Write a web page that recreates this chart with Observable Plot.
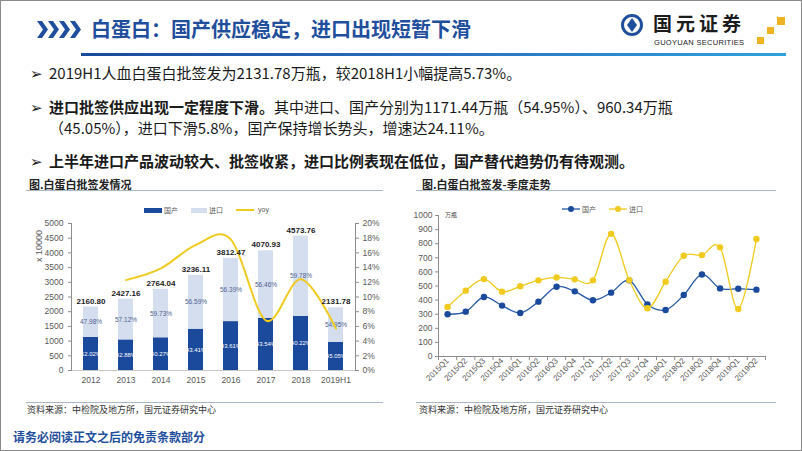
<!DOCTYPE html>
<html><head><meta charset="utf-8">
<script src="https://cdn.jsdelivr.net/npm/d3@7"></script>
<script src="https://cdn.jsdelivr.net/npm/@observablehq/plot@0.6"></script>
<style>
html,body{margin:0;padding:0;background:#fff}
#page{position:relative;width:802px;height:451px;box-sizing:border-box;border:1px solid #8a8a8a;background:#fff;overflow:hidden;font-family:"Noto Sans CJK SC",sans-serif;color:#222}
.a{position:absolute;white-space:nowrap}
.bul{font-size:15px;line-height:20px;font-family:"Liberation Sans Narrow","Noto Sans CJK SC",sans-serif;color:#1a1a1a}
.bul b{font-family:"Noto Sans CJK SC",sans-serif;font-weight:700}
.arrow{font-family:"DejaVu Sans",sans-serif;font-size:15px}
.ctitle{font-size:11px;font-weight:700;color:#222;line-height:14px}
.sep{position:absolute;height:1px;background:#a9b6c9}
.src{font-size:9px;color:#333;line-height:12px}
.leg{font-size:7px;color:#595959;line-height:10px}
</style></head>
<body>
<div id="page">
  <!-- header -->
  <svg class="a" style="left:36px;top:20px" width="48" height="17">
    <g fill="#1F4E9C">
      <polygon points="0,0 5,0 11,8.5 5,17 0,17 6,8.5"/>
      <polygon points="11,0 16,0 22,8.5 16,17 11,17 17,8.5"/>
      <polygon points="22,0 27,0 33,8.5 27,17 22,17 28,8.5"/>
      <polygon points="33,0 38,0 44,8.5 38,17 33,17 39,8.5"/>
    </g>
  </svg>
  <div class="a" style="left:90px;top:15px;font-size:20px;line-height:26px;font-weight:700;color:#1F4E9C">白蛋白：国产供应稳定，进口出现短暂下滑</div>
  <div class="a" style="left:80px;top:52px;width:705px;height:3px;background:linear-gradient(90deg,#1a4a9a,#2b6fc0 50%,#2ea3dc)"></div>
  <svg class="a" style="left:619px;top:12px" width="24" height="24">
    <circle cx="12" cy="12" r="9.5" fill="none" stroke="#1F4E9C" stroke-width="3"/>
    <polygon points="12,5 17,12 12,19 7,12" fill="#1F4E9C"/>
  </svg>
  <div class="a" style="left:652px;top:11px;font-size:19px;line-height:22px;font-weight:700;color:#1c1c1c;letter-spacing:4px">国元证券</div>
  <div class="a" style="left:653px;top:37px;font-size:7.5px;line-height:9px;font-family:'Liberation Sans',sans-serif;color:#222;letter-spacing:0.3px">GUOYUAN SECURITIES</div>
  <div class="a" style="left:776px;top:16px;width:8px;height:8px;background:#F0B323"></div>
  <div class="a" style="left:766px;top:26px;width:7px;height:7px;background:#F0B323"></div>
  <div class="a" style="left:756px;top:36px;width:7px;height:7px;background:#F0B323"></div>

  <!-- bullets -->
  <div class="a bul" style="left:29px;top:62px"><span class="arrow">➢</span></div>
  <div class="a bul" style="left:48px;top:62px">2019H1人血白蛋白批签发为2131.78万瓶，较2018H1小幅提高5.73%。</div>
  <div class="a bul" style="left:29px;top:96px"><span class="arrow">➢</span></div>
  <div class="a bul" style="left:48px;top:96px"><b>进口批签供应出现一定程度下滑。</b>其中进口、国产分别为1171.44万瓶（54.95%）、960.34万瓶</div>
  <div class="a bul" style="left:48px;top:117px">（45.05%），进口下滑5.8%，国产保持增长势头，增速达24.11%。</div>
  <div class="a bul" style="left:29px;top:150px"><span class="arrow">➢</span></div>
  <div class="a bul" style="left:48px;top:150px"><b>上半年进口产品波动较大、批签收紧，进口比例表现在低位，国产替代趋势仍有待观测。</b></div>

  <!-- left chart frame -->
  <div class="a ctitle" style="left:28px;top:176px">图.白蛋白批签发情况</div>
  <div class="sep" style="left:25px;top:189px;width:357px"></div>
  <div class="sep" style="left:25px;top:401px;width:357px"></div>
  <div class="a src" style="left:26px;top:403px">资料来源：中检院及地方所，国元证券研究中心</div>
  <div class="a" style="left:143px;top:207px;width:18px;height:5px;background:#1B4A9C"></div>
  <div class="a leg" style="left:163px;top:204px">国产</div>
  <div class="a" style="left:190px;top:207px;width:16px;height:5px;background:#D5DEEF"></div>
  <div class="a leg" style="left:208px;top:204px">进口</div>
  <div class="a" style="left:235px;top:208px;width:18px;height:2px;background:#F0CA1E"></div>
  <div class="a leg" style="left:257px;top:204px;font-family:'Liberation Sans',sans-serif">yoy</div>
  <div class="a" style="left:10px;top:240px;width:56px;text-align:center;font-size:9px;color:#595959;font-family:'Liberation Sans',sans-serif;transform:rotate(-90deg)">x 10000</div>
  <div id="left" class="a" style="left:20px;top:215px"></div>

  <!-- right chart frame -->
  <div class="a ctitle" style="left:421px;top:176px">图.白蛋白批签发-季度走势</div>
  <div class="sep" style="left:415px;top:189px;width:360px"></div>
  <div class="sep" style="left:415px;top:401px;width:360px"></div>
  <div class="a src" style="left:418px;top:403px">资料来源：中检院及地方所，国元证券研究中心</div>
  <svg class="a" style="left:561px;top:204px" width="18" height="8"><line x1="0" y1="4" x2="18" y2="4" stroke="#2457A6" stroke-width="1.3"/><circle cx="9" cy="4" r="3" fill="#1B4A9C"/></svg>
  <div class="a leg" style="left:581px;top:203px">国产</div>
  <svg class="a" style="left:608px;top:204px" width="18" height="8"><line x1="0" y1="4" x2="18" y2="4" stroke="#F0CA1E" stroke-width="1.3"/><circle cx="9" cy="4" r="3" fill="#F0CA1E"/></svg>
  <div class="a leg" style="left:628px;top:203px">进口</div>
  <div class="a" style="left:444px;top:210px;font-size:6px;color:#444;line-height:8px">万瓶</div>
  <div id="right" class="a" style="left:400px;top:205px"></div>

  <div class="a" style="left:12px;top:428px;font-size:12px;line-height:16px;font-weight:700;color:#1F4E9C">请务必阅读正文之后的免责条款部分</div>
</div>
<script>
// ---- left chart data ----
const years = ["2012","2013","2014","2015","2016","2017","2018","2019H1"];
const totals = [2160.80,2427.16,2764.04,3236.11,3812.47,4070.93,4573.76,2131.78];
const domestic = [1124,1041,1113,1405,1663,1772,1840,960];
const domesticPct = ["52.02%","42.88%","40.27%","43.41%","43.61%","43.54%","40.22%","45.05%"];
const importPct = ["47.98%","57.12%","59.73%","56.59%","56.39%","56.46%","59.78%","54.95%"];
const yoyPct = [null,12.3,13.9,17.1,17.8,6.8,12.4,5.7];
const leftTicks = [0,500,1000,1500,2000,2500,3000,3500,4000,4500,5000];

// ---- right chart data ----
const quarters = ["2015Q1","2015Q2","2015Q3","2015Q4","2016Q1","2016Q2","2016Q3","2016Q4","2017Q1","2017Q2","2017Q3","2017Q4","2018Q1","2018Q2","2018Q3","2018Q4","2019Q1","2019Q2"];
const domQ = [300,318,422,361,309,389,495,462,399,453,540,370,330,436,582,483,481,474];
const impQ = [351,467,549,460,498,540,561,547,540,870,542,342,531,715,719,774,337,833];
const rightTicks = [0,100,200,300,400,500,600,700,800,900,1000];

const DARK="#1B4A9C", LIGHT="#D5DEEF", YEL="#F0CA1E", BLUE="#2457A6", AX="#8c8c8c";

const rows = years.map((y,i)=>({year:y,total:totals[i],dom:domestic[i],domPct:domesticPct[i],impPct:importPct[i],yoy:yoyPct[i]}));
const yoyScale = 5000/20;

const left = Plot.plot({
  width:360,height:175,marginTop:7,marginBottom:21,marginLeft:50,marginRight:26,
  style:{background:"transparent",overflow:"visible",fontFamily:"'Liberation Sans',sans-serif",fontSize:"8.5px",color:"#595959"},
  x:{domain:years,paddingInner:0.57,paddingOuter:0.285,axis:null},
  y:{domain:[0,5000],axis:null},
  marks:[
    Plot.barY(rows,{x:"year",y1:0,y2:"dom",fill:DARK}),
    Plot.barY(rows,{x:"year",y1:"dom",y2:"total",fill:LIGHT}),
    Plot.ruleY([0],{stroke:"#c8c8c8"}),
    Plot.frame({anchor:"left",stroke:AX}),
    Plot.frame({anchor:"right",stroke:AX}),
    Plot.axisY(leftTicks,{anchor:"left",tickSize:3,tickPadding:5,label:null,stroke:AX,fill:"#595959",tickFormat:d=>String(d)}),
    Plot.axisY(leftTicks,{anchor:"right",tickSize:3,tickPadding:4,label:null,stroke:AX,fill:"#595959",tickFormat:d=>(d/yoyScale)+"%"}),
    Plot.axisX({anchor:"bottom",tickSize:0,tickPadding:6,label:null,fill:"#595959"}),
    Plot.text(rows,{x:"year",y:d=>d.dom/2,text:"domPct",fill:"white",fontSize:6}),
    Plot.text(rows,{x:"year",y:d=>(d.dom+d.total)/2,text:"impPct",fill:"#4f5f8f",fontSize:6.5}),
    Plot.line(rows.filter(d=>d.yoy!=null),{x:"year",y:d=>d.yoy*yoyScale,stroke:YEL,strokeWidth:2,curve:"cardinal",tension:0}),
    Plot.text(rows,{x:"year",y:"total",text:d=>d.total.toFixed(2),dy:-6,fontWeight:"bold",fill:"#222",fontSize:8})
  ]
});
document.getElementById("left").appendChild(left);

const qrows = quarters.map((q,i)=>({i,q,dom:domQ[i],imp:impQ[i]}));
const right = Plot.plot({
  width:380,height:190,marginTop:9,marginBottom:40,marginLeft:37,marginRight:16,
  style:{background:"transparent",overflow:"visible",fontFamily:"'Liberation Sans',sans-serif",fontSize:"8.5px",color:"#595959"},
  x:{type:"linear",domain:[-0.5,17.5],axis:null},
  y:{domain:[0,1000],axis:null},
  marks:[
    Plot.frame({anchor:"left",stroke:AX}),
    Plot.ruleY([0],{stroke:AX}),
    Plot.axisY(rightTicks,{anchor:"left",tickSize:3,tickPadding:3,label:null,stroke:AX,fill:"#595959",tickFormat:d=>String(d)}),
    Plot.axisX(d3.range(18).map(i=>i-0.5).concat([17.5]),{anchor:"bottom",tickSize:4,tickFormat:()=>"",label:null,stroke:AX}),
    Plot.axisX(d3.range(18),{anchor:"bottom",tickSize:0,tickPadding:3,tickRotate:-45,tickFormat:i=>quarters[i],label:null,fill:"#595959",fontSize:8}),
    Plot.line(qrows,{x:"i",y:"dom",stroke:BLUE,strokeWidth:1.3,curve:"cardinal",tension:0}),
    Plot.dot(qrows,{x:"i",y:"dom",fill:DARK,r:3.2}),
    Plot.line(qrows,{x:"i",y:"imp",stroke:YEL,strokeWidth:1.3,curve:"cardinal",tension:0}),
    Plot.dot(qrows,{x:"i",y:"imp",fill:YEL,r:3.2})
  ]
});
document.getElementById("right").appendChild(right);
</script>
</body></html>
